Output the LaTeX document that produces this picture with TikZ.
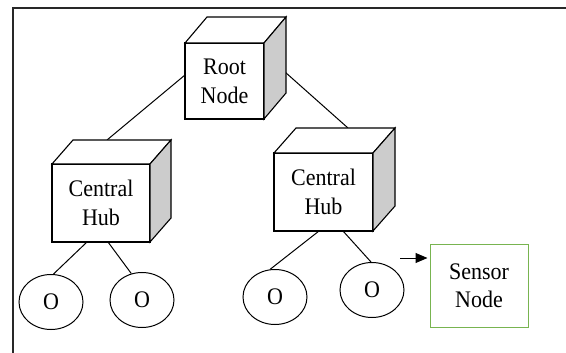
\documentclass[tikz,border=0pt]{standalone}
\usepackage{fontspec}
\setmainfont{Liberation Serif}
\usetikzlibrary{arrows.meta,shapes.geometric}
\definecolor{sidegray}{RGB}{204,204,204}
\definecolor{sensorgreen}{RGB}{120,180,80}
\definecolor{framegray}{RGB}{40,40,40}
% draws the top and right faces of a box-shaped node
\newcommand\cubesides[3]{%
  \draw[face,fill=white] (#1.north west) -- ([shift={(#2,-#3)}]#1.north west)
     -- ([shift={(#2,-#3)}]#1.north east) -- (#1.north east) -- cycle;
  \draw[face,fill=sidegray] (#1.north east) -- ([shift={(#2,-#3)}]#1.north east)
     -- ([shift={(#2,-#3)}]#1.south east) -- (#1.south east) -- cycle;
}
% slightly tall lettering
\newcommand\tallstack[2]{\scalebox{1}[1.08]{#1}\\\scalebox{1}[1.08]{#2}}
\begin{document}
\begin{tikzpicture}[x=1pt,y=-1pt,
  face/.style={draw=black,line width=1.1pt,line join=miter},
  frontface/.style={draw=black,fill=white,line width=1.1pt,rectangle,inner sep=0pt,outer sep=0pt,
     align=center,font=\fontsize{22}{29}\selectfont},
  leaf/.style={draw=black,ellipse,line width=1pt,minimum width=64pt,minimum height=55pt,inner sep=0pt,
     font=\fontsize{22}{26}\selectfont},
  link/.style={draw=black,line width=1pt},
  sensorbox/.style={draw=sensorgreen,line width=1pt,rectangle,minimum width=98pt,minimum height=83pt,
     inner sep=0pt,align=center,font=\fontsize{22}{28}\selectfont}]
\useasboundingbox (0,0) rectangle (566,353);
\fill[white] (0,0) rectangle (566,353);
% frame
\draw[framegray,line width=1.5pt] (13,353) -- (13,8) -- (566,8);

% box nodes (front faces)
\node[frontface,minimum width=79pt,minimum height=76pt] (root) at (224.5,81) {\tallstack{Root}{Node}};
\node[frontface,minimum width=98pt,minimum height=78pt] (lhub) at (101,203) {\tallstack{Central}{Hub}};
\node[frontface,minimum width=99pt,minimum height=78pt] (rhub) at (323.5,192) {\tallstack{Central}{Hub}};

% attachment points on the top/side faces
\coordinate (rootleft) at ([yshift=6pt]root.west);
\coordinate (rootright) at ([shift={(21,-9)}]root.east);
\coordinate (lhubtop) at ([shift={(55,-24)}]lhub.north west);
\coordinate (rhubtop) at ([shift={(74,-25)}]rhub.north west);

% links between the boxes
\draw[link] (rootleft) -- (lhubtop);
\draw[link] (rootright) -- (rhubtop);

\cubesides{root}{22}{26}
\cubesides{lhub}{21}{24}
\cubesides{rhub}{22}{25}

% leaf nodes
\node[leaf] (e1) at (51,302) {\scalebox{1}[1.08]{O}};
\node[leaf] (e2) at (142,300) {\scalebox{1}[1.08]{O}};
\node[leaf] (e3) at (275,297) {\scalebox{1}[1.08]{O}};
\node[leaf] (e4) at (372,290) {\scalebox{1}[1.08]{O}};

\draw[link] ([xshift=-14pt]lhub.south) -- (e1.85);
\draw[link] ([xshift=7pt]lhub.south) -- (e2.112);
\draw[link] ([xshift=-4.5pt]rhub.south) -- (e3.100);
\draw[link] ([xshift=19.5pt]rhub.south) -- (e4.92);

% sensor node and its pointer
\node[sensorbox] (sensor) at (479,285.5) {\tallstack{Sensor}{Node}};
\coordinate (pointer) at (400,258);
\draw[link,-{Triangle[length=12pt,width=10pt]}] (pointer) -- ([shift={(-2,-27.5)}]sensor.west);
\end{tikzpicture}
\end{document}
